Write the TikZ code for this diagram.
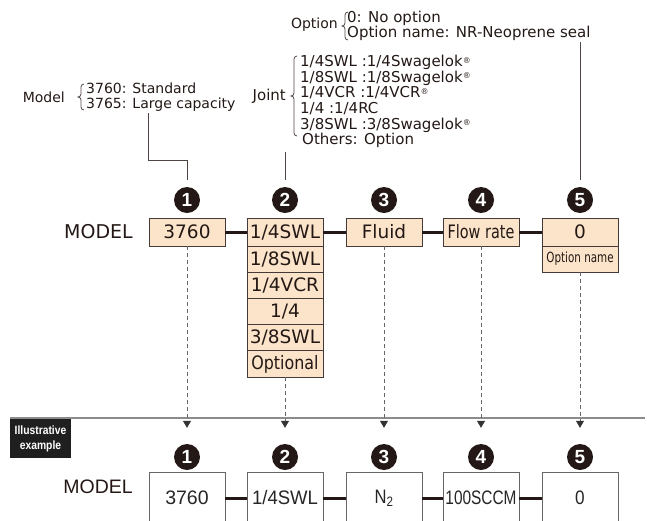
\documentclass[tikz,border=0pt]{standalone}
\usepackage{fontspec}
\usepackage{graphicx}
\setmainfont{DejaVu Sans}
\newfontfamily\helv{Liberation Sans}
\usetikzlibrary{arrows.meta,positioning}
\definecolor{peach}{RGB}{252,228,202}
\definecolor{ink}{RGB}{35,24,21}
\newcommand{\squeeze}[2]{\scalebox{#1}[1]{#2}}
\newcommand{\reg}{\raisebox{3.5pt}{\fontsize{8}{8}\selectfont ®}}
\newcommand{\listbrace}[3]{%
  \draw[leader] ({#1+3},#2) to[out=180,in=90] (#1,{#2+3})
    -- (#1,{(#2+#3)/2-3}) to[out=-90,in=0] ({#1-3},{(#2+#3)/2})
    to[out=0,in=90] (#1,{(#2+#3)/2+3}) -- (#1,{#3-3})
    to[out=-90,in=180] ({#1+3},#3);}

\begin{document}
\begin{tikzpicture}[
  x=1pt,y=-1pt,
  box/.style={
    draw=ink!85,
    line width=0.9pt,
    fill=peach,
    text=ink,
    minimum width=76pt,
    minimum height=28pt,
    inner sep=0pt,
    outer sep=0pt,
    font=\fontsize{18.5}{20}\selectfont
  },
  row/.style={box,minimum height=26.2pt},
  smallrow/.style={row,font=\fontsize{14}{16}\selectfont},
  numdot/.style={
    circle,
    fill=ink,
    text=white,
    minimum size=26pt,
    inner sep=0pt,
    font=\helv\bfseries\fontsize{19}{20}\selectfont
  },
  examplebox/.style={
    draw=black!60,
    line width=0.9pt,
    fill=white,
    text=black!85,
    minimum width=76pt,
    minimum height=52pt,
    inner sep=0pt,
    outer sep=0pt,
    font=\helv\fontsize{19.5}{21}\selectfont
  },
  tag/.style={
    fill=black!88,
    text=white,
    minimum width=61pt,
    minimum height=39pt,
    inner sep=0pt,
    align=center,
    font=\helv\bfseries\fontsize{12}{15}\selectfont
  },
  label/.style={inner sep=0pt,align=left,text=ink,font=\fontsize{14}{15}\selectfont},
  title/.style={inner sep=0pt,text=ink},
  link/.style={line width=3pt,ink},
  leader/.style={line width=0.8pt,ink!80},
  guide/.style={line width=0.8pt,black!60,dash pattern=on 4pt off 3pt,
    -{Triangle[length=7pt,width=8pt,color=black!80]}},
  rule/.style={line width=1.5pt,black!45}
]
  \path[use as bounding box,clip] (0,0) rectangle (647,520);

  \node[label,anchor=east] (modeltag) at (65,97) {Model};
  \node[label,anchor=west] (modellist) at (86,97) {3760: Standard\\3765: Large capacity};
  \listbrace{81}{84}{110}
  \node[label,anchor=east,font=\fontsize{15}{15}\selectfont] (jointtag) at (286,96) {Joint};
  \node[label,anchor=north west,font=\fontsize{15}{15.6}\selectfont] (jointlist) at (300,55)
    {1/4SWL :1/4Swagelok\reg\\1/8SWL :1/8Swagelok\reg\\1/4VCR :1/4VCR\reg\\1/4 :1/4RC\\
     3/8SWL :3/8Swagelok\reg\\\hspace*{2pt}Others: Option};
  \listbrace{294}{56}{136}
  \node[label,anchor=east] (opttag) at (338,25) {Option};
  \node[label,anchor=west,font=\fontsize{15}{14.5}\selectfont] (optlist) at (347,26) {0: No option\\Option name: NR-Neoprene seal};
  \listbrace{345}{12}{40}

  \node[title,anchor=east,font=\fontsize{19}{20}\selectfont] (model) at (133,232) {MODEL};
  \node[box] (m1) at (187,232) {3760};
  \node[box] (m2) at (285,232) {1/4SWL};
  \node[row,below=0pt of m2] (j2) {1/8SWL};
  \node[row,below=0pt of j2] (j3) {1/4VCR};
  \node[row,below=0pt of j3] (j4) {1/4};
  \node[row,below=0pt of j4] (j5) {3/8SWL};
  \node[row,below=0pt of j5] (j6) {\squeeze{0.86}{Optional}};
  \node[box] (m3) at (384,232) {Fluid};
  \node[box] (m4) at (481,232) {\squeeze{0.78}{Flow rate}};
  \node[box] (m5) at (580,232) {0};
  \node[smallrow,below=0pt of m5] (optrow) {\squeeze{0.74}{Option name}};

  \draw[link] (m1) -- (m2);
  \draw[link] (m2) -- (m3);
  \draw[link] (m3) -- (m4);
  \draw[link] (m4) -- (m5);

  \node[numdot] (n1) at (187,200) {1};
  \node[numdot] (n2) at (285,200) {2};
  \node[numdot] (n3) at (384,200) {3};
  \node[numdot] (n4) at (481,200) {4};
  \node[numdot] (n5) at (580,200) {5};

  \coordinate (modelfoot) at (148,113);
  \coordinate (jointfoot) at (285,152);
  \coordinate (optfoot) at (580,42);
  \draw[leader] (modelfoot) -- ++(0,47) -| ([yshift=7pt]n1.north);
  \draw[leader] (jointfoot) -- ([yshift=7pt]n2.north);
  \draw[leader] (optfoot) -- ([yshift=7pt]n5.north);

  \coordinate (ruleL) at (10,418);
  \coordinate (ruleR) at (645,418);
  \draw[rule] (ruleL) -- (ruleR);
  \node[tag] (extag) at (40.5,438.5) {\squeeze{0.86}{Illustrative}\\\squeeze{0.86}{example}};

  \node[numdot] (e1) at (187,457) {1};
  \node[numdot] (e2) at (285,457) {2};
  \node[numdot] (e3) at (384,457) {3};
  \node[numdot] (e4) at (481,457) {4};
  \node[numdot] (e5) at (580,457) {5};

  \draw[guide] (m1.south) -- ([yshift=16pt]e1.north);
  \draw[guide] (j6.south) -- ([yshift=16pt]e2.north);
  \draw[guide] (m3.south) -- ([yshift=16pt]e3.north);
  \draw[guide] (m4.south) -- ([yshift=16pt]e4.north);
  \draw[guide] (optrow.south) -- ([yshift=16pt]e5.north);

  \node[title,anchor=east,font=\helv\fontsize{19.5}{21}\selectfont] (example) at (133,487) {MODEL};
  \node[examplebox] (b1) at (187,498) {3760};
  \node[examplebox] (b2) at (285,498) {\squeeze{0.95}{1/4SWL}};
  \node[examplebox] (b3) at (384,498) {\squeeze{0.85}{N\textsubscript{2}}};
  \node[examplebox] (b4) at (481,498) {\squeeze{0.79}{100SCCM}};
  \node[examplebox] (b5) at (580,498) {\squeeze{0.88}{0}};

  \draw[link] (b1) -- (b2);
  \draw[link] (b2) -- (b3);
  \draw[link] (b3) -- (b4);
  \draw[link] (b4) -- (b5);
\end{tikzpicture}
\end{document}
